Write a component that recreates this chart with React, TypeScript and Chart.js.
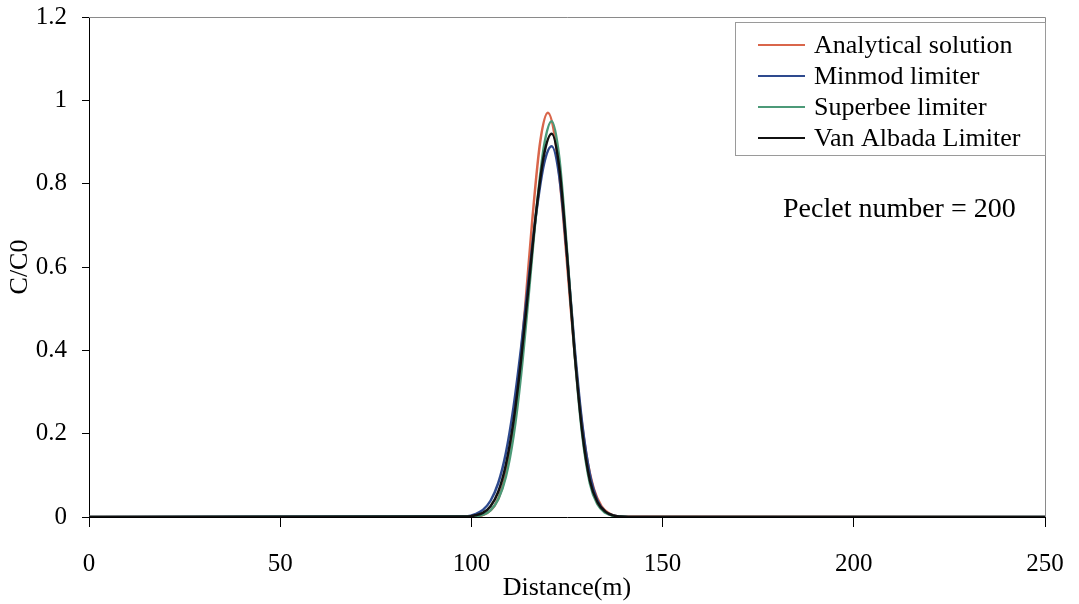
import React, { useEffect, useRef } from "react";
import { Chart, registerables } from "chart.js";

Chart.register(...registerables);

// Distance grid (m) for the analytical profile and the finite-volume results
const xAnalytical = [0, 100, 102, 104, 106, 108, 110, 112, 114, 116, 118, 120, 122, 124, 126, 128, 130, 132, 134, 136, 138, 140, 250];
const xNumerical = [0, 99, 101, 103, 105, 107, 109, 111, 113, 115, 117, 119, 121, 123, 125, 127, 129, 131, 133, 135, 137, 139, 141, 143, 250];

// Relative concentration C/C0
const analytical = [0, 0.001, 0.002, 0.009, 0.026, 0.068, 0.153, 0.297, 0.498, 0.721, 0.901, 0.97, 0.901, 0.721, 0.498, 0.297, 0.153, 0.068, 0.026, 0.009, 0.002, 0.001, 0];
const minmod = [0, 0.002, 0.007, 0.017, 0.039, 0.081, 0.153, 0.263, 0.407, 0.574, 0.732, 0.848, 0.89, 0.816, 0.629, 0.407, 0.222, 0.102, 0.039, 0.013, 0.004, 0.001, 0, 0, 0];
const superbee = [0, 0.001, 0.002, 0.005, 0.016, 0.042, 0.096, 0.193, 0.342, 0.535, 0.736, 0.891, 0.95, 0.861, 0.64, 0.391, 0.196, 0.08, 0.03, 0.01, 0.003, 0.001, 0, 0, 0];
const vanAlbada = [0, 0.001, 0.004, 0.01, 0.026, 0.06, 0.125, 0.229, 0.378, 0.558, 0.737, 0.87, 0.92, 0.837, 0.63, 0.393, 0.203, 0.087, 0.035, 0.013, 0.004, 0.001, 0, 0, 0];

const seriesNames = ["Analytical solution", "Minmod limiter", "Superbee limiter", "Van Albada Limiter"];
const seriesColors = ["#d9664b", "#2e4a8e", "#4c9a78", "#111111"];
const pecletLabel = "Peclet number = 200";

const FONT = "'Liberation Serif', 'Times New Roman', serif";

const toPoints = (xs: number[], ys: number[]) => xs.map((x, i) => ({ x, y: ys[i] }));

// Plot frame, inset legend box and the Peclet annotation
const overlayPlugin = {
  id: "overlay",
  afterDraw(chart: any) {
    const { ctx, chartArea } = chart;
    ctx.save();
    // top and right frame lines
    ctx.strokeStyle = "#8a8a8a";
    ctx.lineWidth = 1;
    ctx.beginPath();
    ctx.moveTo(chartArea.left, chartArea.top + 0.5);
    ctx.lineTo(chartArea.right + 0.5, chartArea.top + 0.5);
    ctx.lineTo(chartArea.right + 0.5, chartArea.bottom);
    ctx.stroke();

    // legend box
    const bx = 735, by = 22, bw = chartArea.right - 735, bh = 133;
    ctx.fillStyle = "#ffffff";
    ctx.fillRect(bx, by, bw, bh);
    ctx.strokeStyle = "#9a9a9a";
    ctx.strokeRect(bx + 0.5, by + 0.5, bw, bh);
    ctx.font = `26px ${FONT}`;
    ctx.textBaseline = "middle";
    ctx.textAlign = "left";
    seriesNames.forEach((name, i) => {
      const y = 45 + i * 31;
      ctx.strokeStyle = seriesColors[i];
      ctx.lineWidth = 2;
      ctx.beginPath();
      ctx.moveTo(758, y);
      ctx.lineTo(805, y);
      ctx.stroke();
      ctx.fillStyle = "#000";
      ctx.fillText(name, 814, y + 1);
    });

    ctx.font = `28px ${FONT}`;
    ctx.fillStyle = "#000";
    ctx.fillText(pecletLabel, 783, 210);
    ctx.restore();
  },
};

export default function App() {
  const canvasRef = useRef<HTMLCanvasElement | null>(null);

  useEffect(() => {
    if (!canvasRef.current) return;
    const mk = (i: number, xs: number[], ys: number[], order: number) => ({
      label: seriesNames[i],
      data: toPoints(xs, ys),
      borderColor: seriesColors[i],
      backgroundColor: seriesColors[i],
      borderWidth: 2.5,
      pointRadius: 0,
      cubicInterpolationMode: "monotone" as const,
      fill: false,
      order,
    });
    const chart = new Chart(canvasRef.current, {
      type: "line",
      data: {
        datasets: [
          mk(0, xAnalytical, analytical, 4),
          mk(1, xNumerical, minmod, 3),
          mk(2, xNumerical, superbee, 2),
          mk(3, xNumerical, vanAlbada, 1),
        ],
      },
      options: {
        animation: false,
        responsive: false,
        maintainAspectRatio: false,
        layout: { padding: { top: 17, right: 34, left: 0, bottom: 0 } },
        plugins: { legend: { display: false }, tooltip: { enabled: false } },
        scales: {
          x: {
            type: "linear",
            min: 0,
            max: 250,
            afterFit: (s: any) => {
              s.height = 87;
              s.paddingLeft = 0;
              s.paddingRight = 0;
            },
            ticks: { stepSize: 50, color: "#000", font: { family: FONT, size: 25 }, padding: 22, maxRotation: 0 },
            grid: { display: true, drawOnChartArea: false, drawTicks: true, tickLength: 10, color: "#000" },
            border: { display: true, color: "#000", width: 1 },
            title: { display: true, text: "Distance(m)", color: "#000", font: { family: FONT, size: 26 }, padding: { top: 0, bottom: 0 } },
          },
          y: {
            type: "linear",
            min: 0,
            max: 1.2,
            afterFit: (s: any) => {
              s.width = 89;
              s.paddingTop = 0;
              s.paddingBottom = 0;
            },
            ticks: {
              stepSize: 0.2,
              color: "#000",
              font: { family: FONT, size: 25 },
              padding: 15,
              callback: (v: any) => String(Math.round(Number(v) * 10) / 10),
            },
            grid: { display: true, drawOnChartArea: false, drawTicks: true, tickLength: 7, color: "#000" },
            border: { display: true, color: "#000", width: 1 },
            title: { display: true, text: "C/C0", color: "#000", font: { family: FONT, size: 26 }, padding: { top: 5, bottom: 0 } },
          },
        },
      },
      plugins: [overlayPlugin],
    });
    return () => chart.destroy();
  }, []);

  return (
    <div style={{ position: "fixed", left: 0, top: 0, width: 1079, height: 604, background: "#fff" }}>
      <canvas ref={canvasRef} width={1079} height={604} style={{ width: 1079, height: 604, display: "block" }} />
    </div>
  );
}
